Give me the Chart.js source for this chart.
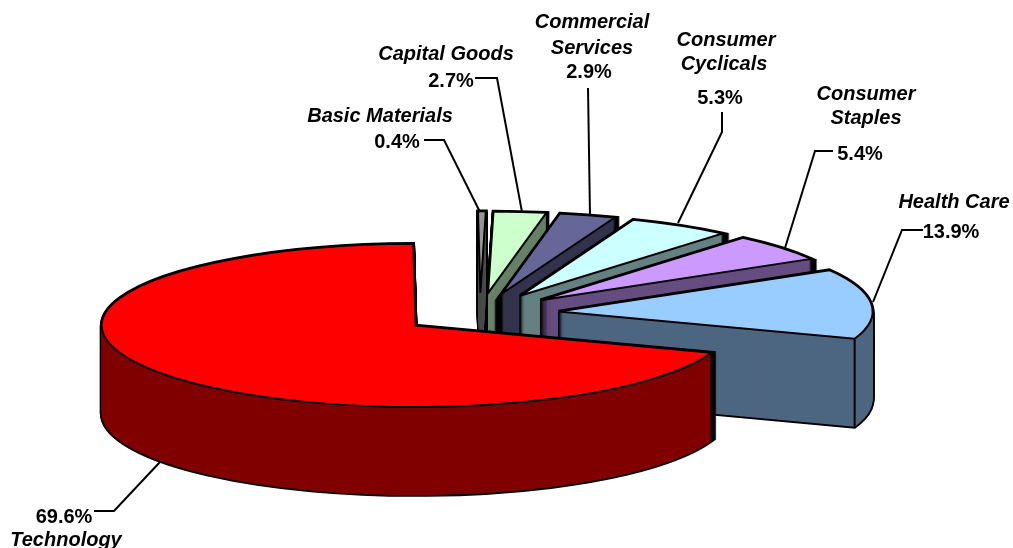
<!DOCTYPE html>
<html>
<head>
<meta charset="utf-8">
<title>Sector weights</title>
<script src="https://cdn.jsdelivr.net/npm/chart.js@4"></script>
<style>
  html, body { margin: 0; padding: 0; background: #fff; }
  canvas { display: block; }
</style>
</head>
<body>
<canvas id="myChart" width="1013" height="548"></canvas>
<script>
const categories = ["Technology", "Basic Materials", "Capital Goods", "Commercial Services", "Consumer Cyclicals", "Consumer Staples", "Health Care"];
const weights = [69.6, 0.4, 2.7, 2.9, 5.3, 5.4, 13.9];
const topColors = ["#ff0000", "#969696", "#ccffcc", "#666699", "#ccffff", "#cc99ff", "#99ccff"];
const wallColors = ["#800000", "#4b4b4b", "#668066", "#33334d", "#668080", "#664d80", "#4d6680"];

// 3d look
const tilt = 0.26;
const depth = 88;
const explode = 79;
const drawOrder = [1, 2, 3, 4, 5, 6, 0]; // back to front

// label text lines, [text, centre x, baseline y]
const labelPlaces = [
  { name: [["Technology", 66, 546]], pct: [64, 523], leader: [[94, 511], [114, 511], [160, 462]] },
  { name: [["Basic Materials", 380, 122]], pct: [397, 148], leader: [[424, 140], [444, 140], [480, 212]] },
  { name: [["Capital Goods", 446, 60]], pct: [451, 87], leader: [[475, 78], [497, 78], [522, 212]] },
  { name: [["Commercial", 592, 28], ["Services", 592, 54]], pct: [589, 78], leader: [[588, 88], [590, 216]] },
  { name: [["Consumer", 726, 46], ["Cyclicals", 724, 70]], pct: [720, 104], leader: [[722, 112], [722, 132], [678, 223]] },
  { name: [["Consumer", 866, 100], ["Staples", 866, 124]], pct: [860, 160], leader: [[833, 151], [815, 151], [785, 248]] },
  { name: [["Health Care", 954, 208]], pct: [951, 238], leader: [[923, 230], [902, 230], [873, 302]] },
];

function slicePath(ctx, arc, dy) {
  const mid = (arc.startAngle + arc.endAngle) / 2;
  const x = arc.x + Math.cos(mid) * explode;
  const y = arc.y + Math.sin(mid) * explode * tilt + dy;
  ctx.beginPath();
  ctx.moveTo(x, y);
  ctx.ellipse(x, y, arc.outerRadius, arc.outerRadius * tilt, 0, arc.startAngle, arc.endAngle);
  ctx.closePath();
}

const pie3d = {
  id: "pie3d",
  // replaces the flat arcs, the geometry still comes from the pie controller
  beforeDatasetDraw(chart) {
    const ctx = chart.ctx;
    const arcs = chart.getDatasetMeta(0).data;
    ctx.save();
    ctx.lineJoin = "miter";
    ctx.miterLimit = 6;
    ctx.strokeStyle = "#000";
    drawOrder.forEach(function (i) {
      const arc = arcs[i];
      const mid = (arc.startAngle + arc.endAngle) / 2;
      const x = arc.x + Math.cos(mid) * explode;
      const y = arc.y + Math.sin(mid) * explode * tilt;
      let d;

      // black outline of the whole block, the wall fill covers its inner half
      ctx.lineWidth = 3.6;
      for (d = depth; d >= 0; d--) {
        slicePath(ctx, arc, d);
        ctx.stroke();
      }
      ctx.fillStyle = wallColors[i];
      for (d = depth; d >= 0; d--) {
        slicePath(ctx, arc, d);
        ctx.fill();
      }

      // vertical edges, only the front rim corners show
      ctx.lineWidth = 2;
      [arc.startAngle, arc.endAngle].forEach(function (a) {
        if (Math.sin(a) <= 0) return;
        const px = x + Math.cos(a) * arc.outerRadius;
        const py = y + Math.sin(a) * arc.outerRadius * tilt;
        ctx.beginPath();
        ctx.moveTo(px, py);
        ctx.lineTo(px, py + depth);
        ctx.stroke();
      });

      slicePath(ctx, arc, 0);
      ctx.fillStyle = topColors[i];
      ctx.fill();
      ctx.stroke();
    });
    ctx.restore();
    return false;
  },
  afterDatasetsDraw(chart) {
    const ctx = chart.ctx;
    ctx.save();
    ctx.fillStyle = "#000";
    ctx.strokeStyle = "#000";
    ctx.lineWidth = 2;
    ctx.textAlign = "center";
    ctx.textBaseline = "alphabetic";
    labelPlaces.forEach(function (p, i) {
      ctx.beginPath();
      p.leader.forEach(function (pt, n) {
        if (n === 0) ctx.moveTo(pt[0], pt[1]);
        else ctx.lineTo(pt[0], pt[1]);
      });
      ctx.stroke();
      ctx.font = "italic bold 20px 'Liberation Sans', Arial, sans-serif";
      p.name.forEach(function (line) {
        ctx.fillText(line[0], line[1], line[2]);
      });
      ctx.font = "bold 20px 'Liberation Sans', Arial, sans-serif";
      ctx.fillText(weights[i].toFixed(1) + "%", p.pct[0], p.pct[1]);
    });
    ctx.restore();
  },
};

const data = {
  labels: categories,
  datasets: [
    {
      data: weights,
      backgroundColor: topColors,
      borderColor: "#000",
      radius: 314,
    },
  ],
};

const config = {
  type: "pie",
  data: data,
  options: {
    responsive: false,
    animation: false,
    rotation: 109.5,
    layout: { padding: { right: 53, top: 79 } },
    plugins: { legend: { display: false }, tooltip: { enabled: false } },
  },
  plugins: [pie3d],
};

var myChart = new Chart(document.getElementById("myChart"), config);
</script>
</body>
</html>
